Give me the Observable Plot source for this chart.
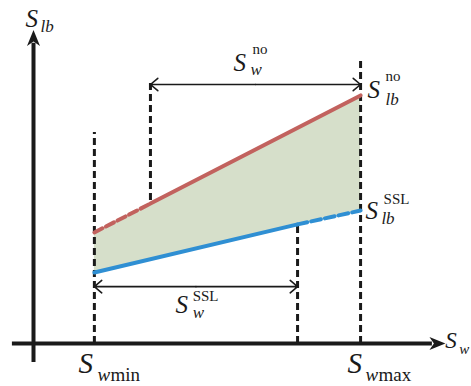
<!DOCTYPE html>
<html><head><meta charset="utf-8">
<script src="https://cdn.jsdelivr.net/npm/d3@7"></script>
<script src="https://cdn.jsdelivr.net/npm/@observablehq/plot@0.6"></script>
<style>body{margin:0;background:#fff}</style>
</head><body><div id="chart"></div>
<script>
// Positions along S_w (x) and S_lb (y), in abstract units
const swMin = 2.28, swNo = 4.38, swSsl = 9.89, swMax = 12.25;
const redX = [swMin, swNo, swMax];
const redY = [4.16, 5.24, 9.29];          // S_lb^no line
const blueX = [swMin, swSsl, swMax];
const blueY = [2.66, 4.46, 4.98];         // S_lb^SSL line
const guideX = [swMin, swNo, swSsl, swMax];
const guideBottom = [0, 5.36, 0, 0];
const guideTop = [7.90, 9.85, 4.53, 10.71];
const spanNoLevel = 9.70, spanSslLevel = 2.13;
const axisXRange = [-0.79, 15.24];
const axisYRange = [-0.71, 11.55];

// Label pieces
const mainText = ["S", "S", "S", "S", "S"];
const mainX = [-0.30, 7.49, 12.51, 12.43, 5.32];
const mainY = [11.87, 10.22, 9.18, 4.68, 1.16];
const subText = ["lb", "w", "lb", "lb", "w"];
const subX = [0.26, 8.13, 13.18, 13.03, 5.96];
const subY = [11.65, 10.04, 8.95, 4.46, 0.94];
const supText = ["no", "no", "SSL", "SSL"];
const supX = [8.20, 13.18, 13.11, 5.96];
const supY = [10.86, 9.85, 5.24, 1.61];
const tickText = ["S", "S"];
const tickX = [1.69, 11.76];
const tickY = [-1.09, -1.09];
const tickSubW = ["w", "w"];
const tickSubWX = [2.40, 12.43];
const tickSubRest = ["min", "max"];
const tickSubRestX = [2.88, 12.92];
const tickSubY = [-1.42, -1.42];
const axisLabel = ["S", "w"];
const axisLabelX = [15.42, 15.95];
const axisLabelY = [-0.15, -0.41];

const pts = (xs, ys) => xs.map((x, i) => ({x, y: ys[i]}));
const red = pts(redX, redY), blue = pts(blueX, blueY);
const band = [
  {x: swMin, y1: blueY[0], y2: redY[0]},
  {x: swMax, y1: blueY[2], y2: redY[2]}
];
const guides = guideX.map((x, i) => ({x, y1: guideBottom[i], y2: guideTop[i]}));
const spans = [
  {x1: swNo, x2: swMax, y: spanNoLevel},
  {x1: swMin, x2: swSsl, y: spanSslLevel}
];
const halfSpans = spans.flatMap(s => {
  const m = (s.x1 + s.x2) / 2;
  return [{x1: m, x2: s.x1, y: s.y}, {x1: m, x2: s.x2, y: s.y}];
});
const T = (t, xs, ys) => t.map((s, i) => ({s, x: xs[i], y: ys[i]}));

const serif = "Liberation Serif";
const RED = "#c2625e", BLUE = "#2f8fd3", FILL = "#d6dfca", INK = "#1a1a1a";

// stealth-style filled arrowhead, tip at the anchor point, pointing +x
const stealth = {draw(ctx) {
  const L = 15, W = 6.5, N = 4.5;
  ctx.moveTo(1, 0); ctx.lineTo(-L, -W); ctx.lineTo(-L + N, 0); ctx.lineTo(-L, W); ctx.closePath();
}};
const heads = [
  {x: axisXRange[1] + 0.15, y: 0, r: 0},
  {x: 0, y: axisYRange[1] + 0.15, r: -90}
];
const txt = (data, size, style) => Plot.text(data, {x: "x", y: "y", text: "s", textAnchor: "start", lineAnchor: "bottom", fontSize: size, fontStyle: style, fontFamily: serif, fill: INK});

const chart = Plot.plot({
  width: 471, height: 386,
  margin: 0,
  x: {domain: [(0 - 33) / 26.7, (471 - 33) / 26.7], axis: null},
  y: {domain: [(343 - 386) / 26.7, 343 / 26.7], axis: null},
  style: {background: "#fff"},
  marks: [
    Plot.areaY(band, {x: "x", y1: "y1", y2: "y2", fill: FILL}),
    Plot.ruleX(guides, {x: "x", y1: "y1", y2: "y2", stroke: INK, strokeWidth: 3, strokeDasharray: "7,4"}),
    Plot.line(red.slice(0, 2), {x: "x", y: "y", stroke: RED, strokeWidth: 4, strokeDasharray: "9,4"}),
    Plot.line(red.slice(1), {x: "x", y: "y", stroke: RED, strokeWidth: 4}),
    Plot.line(blue.slice(0, 2), {x: "x", y: "y", stroke: BLUE, strokeWidth: 4}),
    Plot.line(blue.slice(1), {x: "x", y: "y", stroke: BLUE, strokeWidth: 4, strokeDasharray: "10,4"}),
    Plot.arrow(halfSpans, {x1: "x1", x2: "x2", y1: "y", y2: "y", stroke: INK, strokeWidth: 1.6, headLength: 9, headAngle: 80}),
    Plot.ruleY([0], {x1: axisXRange[0], x2: axisXRange[1] - 0.3, stroke: INK, strokeWidth: 4}),
    Plot.ruleX([0], {y1: axisYRange[0], y2: axisYRange[1] - 0.3, stroke: INK, strokeWidth: 4}),
    Plot.dot(heads, {x: "x", y: "y", rotate: "r", symbol: stealth, fill: INK, stroke: "none", r: 1}),
    txt(T(mainText, mainX, mainY), 25, "italic"),
    txt(T(subText, subX, subY), 17, "italic"),
    txt(T(supText, supX, supY), 15, "normal"),
    txt(T(tickText, tickX, tickY), 29, "italic"),
    txt(T(tickSubW, tickSubWX, tickSubY), 19, "italic"),
    txt(T(tickSubRest, tickSubRestX, tickSubY), 19, "normal"),
    txt(T(axisLabel.slice(0, 1), axisLabelX, axisLabelY), 23, "italic"),
    txt(T(axisLabel.slice(1), axisLabelX.slice(1), axisLabelY.slice(1)), 15, "italic")
  ]
});
document.getElementById("chart").appendChild(chart);
</script>
</body></html>
